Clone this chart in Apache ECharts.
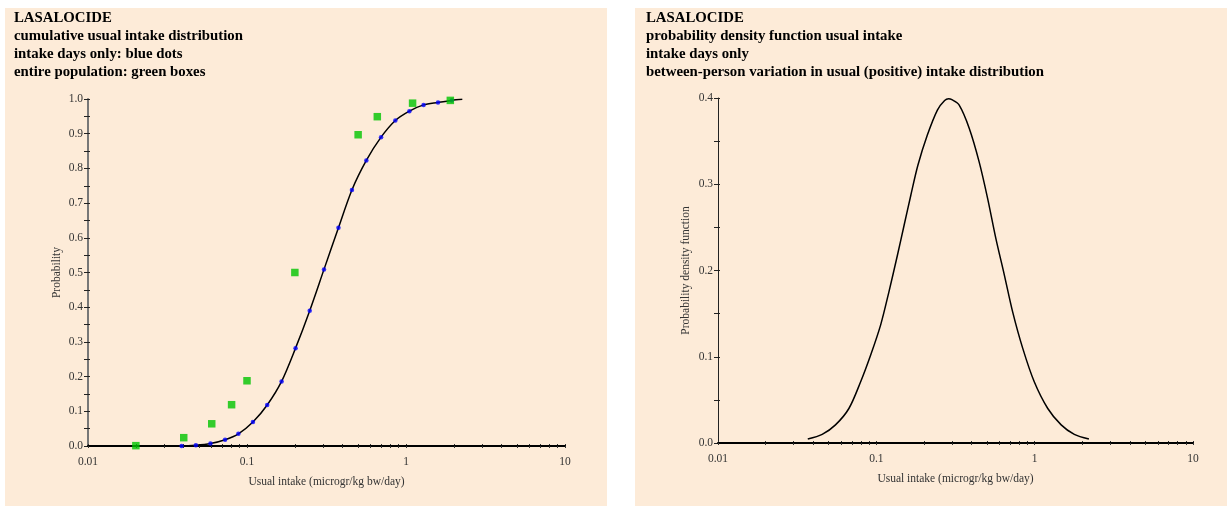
<!DOCTYPE html>
<html>
<head>
<meta charset="utf-8">
<script src="https://cdn.jsdelivr.net/npm/echarts@6/dist/echarts.min.js"></script>
<style>html,body{margin:0;padding:0;background:#fff;}#c{width:1231px;height:506px;}</style>
</head>
<body>
<div id="c"></div>
<script>
// ---- data ----
const titleLeft = ['LASALOCIDE', 'cumulative usual intake distribution', 'intake days only: blue dots', 'entire population: green boxes'];
const titleRight = ['LASALOCIDE', 'probability density function usual intake', 'intake days only', 'between-person variation in usual (positive) intake distribution'];
const xTickLabels = [0.01, 0.1, 1, 10];
const xMinorTicks = [0.01,0.02,0.03,0.04,0.05,0.06,0.07,0.08,0.09,0.1,0.2,0.3,0.4,0.5,0.6,0.7,0.8,0.9,1,2,3,4,5,6,7,8,9,10];

// blue dots: intake days only
const dotX = [0.0388,0.0477,0.0589,0.0728,0.0883,0.109,0.134,0.165,0.202,0.248,0.305,0.376,0.457,0.563,0.697,0.857,1.05,1.29,1.59,1.94];
const dotY = [0.000,0.002,0.007,0.018,0.035,0.069,0.118,0.186,0.282,0.390,0.509,0.629,0.738,0.823,0.890,0.938,0.965,0.983,0.990,0.996];
// green boxes: entire population
const boxX = [0.02,0.04,0.06,0.08,0.1,0.2,0.5,0.66,1.1,1.9];
const boxY = [0.001,0.024,0.064,0.119,0.188,0.500,0.897,0.949,0.988,0.996];
// fitted cumulative curve
const cdfX = [0.036,0.0388,0.0477,0.0589,0.0728,0.0883,0.109,0.134,0.165,0.202,0.248,0.305,0.376,0.457,0.563,0.697,0.857,1.05,1.29,1.59,1.94,2.26];
const cdfY = [0.000,0.000,0.002,0.007,0.018,0.035,0.069,0.118,0.186,0.282,0.390,0.509,0.629,0.738,0.823,0.890,0.938,0.965,0.983,0.990,0.996,0.999];
// probability density function
const pdfX = [0.0369,0.0455,0.0552,0.0671,0.0796,0.0921,0.1065,0.120,0.136,0.150,0.165,0.183,0.210,0.243,0.270,0.286,0.300,0.333,0.386,0.446,0.504,0.569,0.643,0.726,0.840,0.994,1.21,1.47,1.78,2.20];
const pdfY = [0.0046,0.010,0.021,0.040,0.071,0.102,0.137,0.175,0.218,0.253,0.287,0.322,0.357,0.386,0.397,0.399,0.398,0.392,0.365,0.326,0.284,0.237,0.195,0.152,0.110,0.071,0.040,0.021,0.010,0.0046];

const zip = (a, b) => a.map((v, i) => [v, b[i]]);

const FONT = 'Liberation Serif';
const AXFS = 11.5;
const tickLabelStyle = { fontFamily: FONT, fontSize: AXFS, color: '#333' };

function makeX(gi, nameGap) {
  return {
    gridIndex: gi, type: 'log', logBase: 10, min: 0.01, max: 10,
    name: 'Usual intake (microgr/kg bw/day)', nameLocation: 'middle', nameGap: nameGap,
    nameTextStyle: { fontFamily: FONT, fontSize: AXFS, color: '#333' },
    axisLine: { show: true, onZero: false, lineStyle: { color: '#000', width: 2 } },
    axisTick: { show: true, length: 2, customValues: xMinorTicks, lineStyle: { color: '#333', width: 1 } },
    axisLabel: { show: true, customValues: xTickLabels, margin: 10, formatter: v => String(xTickLabels.find(t => Math.abs(t - v) / t < 1e-6) ?? v), ...tickLabelStyle },
    splitLine: { show: false }, minorTick: { show: false }, minorSplitLine: { show: false }, z: 2
  };
}
function makeXInner(gi) {
  return {
    gridIndex: gi, type: 'log', logBase: 10, min: 0.01, max: 10,
    axisLine: { show: false, onZero: false },
    axisTick: { show: true, inside: true, length: 2, customValues: xMinorTicks, lineStyle: { color: '#333', width: 1 } },
    axisLabel: { show: false }, splitLine: { show: false }, position: 'bottom'
  };
}
function makeY(gi, max, name, nameGap, lineColor, lineWidth) {
  return {
    gridIndex: gi, type: 'value', min: 0, max: max, interval: 0.1,
    name: name, nameLocation: 'middle', nameGap: nameGap,
    nameTextStyle: { fontFamily: FONT, fontSize: AXFS, color: '#333' },
    axisLine: { show: true, lineStyle: { color: lineColor, width: lineWidth } },
    axisTick: { show: true, length: 4, lineStyle: { color: '#222', width: 1 } },
    minorTick: { show: true, splitNumber: 2, length: 4, lineStyle: { color: '#222', width: 1 } },
    axisLabel: { formatter: v => v.toFixed(1), margin: 5, ...tickLabelStyle },
    splitLine: { show: false }
  };
}
function makeYInner(gi, max) {
  return {
    gridIndex: gi, type: 'value', min: 0, max: max, interval: 0.1, position: 'left',
    axisLine: { show: false },
    axisTick: { show: true, inside: true, length: 2, lineStyle: { color: '#222', width: 1 } },
    minorTick: { show: true, splitNumber: 2, length: 2, lineStyle: { color: '#222', width: 1 } },
    axisLabel: { show: false }, splitLine: { show: false }
  };
}

const chart = echarts.init(document.getElementById('c'), null, { renderer: 'canvas' });
chart.setOption({
  animation: false,
  backgroundColor: '#ffffff',
  graphic: [
    { type: 'rect', left: 5, top: 8, shape: { width: 602, height: 498 }, style: { fill: '#fdebd8' }, z: -10, silent: true },
    { type: 'rect', left: 635, top: 8, shape: { width: 592, height: 498 }, style: { fill: '#fdebd8' }, z: -10, silent: true }
  ],
  title: [
    { left: 14, top: 9, padding: 0, text: titleLeft.join('\n'), textStyle: { fontFamily: FONT, fontWeight: 'bold', fontSize: 14.8, lineHeight: 18, color: '#000' } },
    { left: 646, top: 9, padding: 0, text: titleRight.join('\n'), textStyle: { fontFamily: FONT, fontWeight: 'bold', fontSize: 14.8, lineHeight: 18, color: '#000' } }
  ],
  grid: [
    { left: 88, top: 99, width: 477, height: 347 },
    { left: 718, top: 98, width: 475, height: 345 }
  ],
  xAxis: [makeX(0, 30), makeX(1, 30), makeXInner(0), makeXInner(1)],
  yAxis: [
    makeY(0, 1.0, 'Probability', 25, '#777', 2),
    makeY(1, 0.4, 'Probability density function', 26, '#222', 1),
    makeYInner(0, 1.0), makeYInner(1, 0.4)
  ],
  series: [
    { type: 'line', xAxisIndex: 0, yAxisIndex: 0, data: zip(cdfX, cdfY), smooth: 0.3, showSymbol: false, lineStyle: { color: '#000', width: 1.5 }, z: 3 },
    { type: 'scatter', xAxisIndex: 0, yAxisIndex: 0, data: zip(dotX, dotY), symbol: 'circle', symbolSize: 4.5, itemStyle: { color: '#0000ff' }, z: 4 },
    { type: 'scatter', xAxisIndex: 0, yAxisIndex: 0, data: zip(boxX, boxY), symbol: 'rect', symbolSize: 7.5, itemStyle: { color: '#00c400' }, z: 5 },
    { type: 'line', xAxisIndex: 1, yAxisIndex: 1, data: zip(pdfX, pdfY), smooth: 0.3, showSymbol: false, lineStyle: { color: '#000', width: 1.5 }, z: 3 }
  ]
});
</script>
</body>
</html>
